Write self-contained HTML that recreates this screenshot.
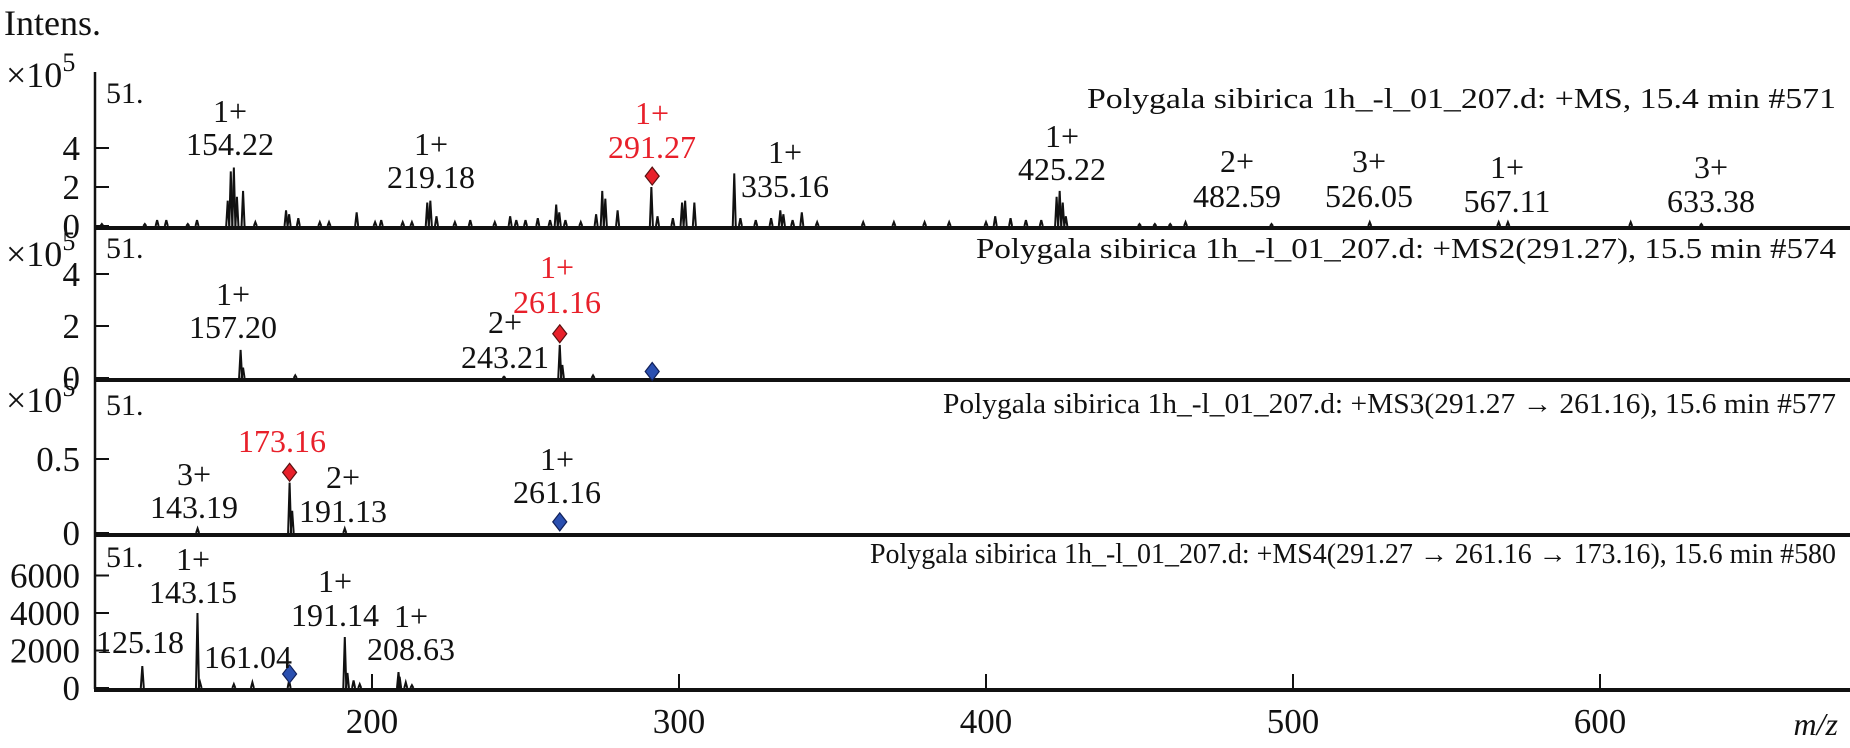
<!DOCTYPE html>
<html><head><meta charset="utf-8"><style>
html,body{margin:0;padding:0;background:#fff}
svg{display:block}
text{font-family:"Liberation Serif",serif;fill:#111}
.red{fill:#e8202a}
</style></head><body>
<svg id="chart" width="1850" height="748" viewBox="0 0 1850 748" xmlns="http://www.w3.org/2000/svg">
<text x="4" y="35" font-size="36">Intens.</text>
<g id="axes"></g>
<g id="marks"></g>
<g id="labels"></g>
<text x="1838" y="735" font-size="32" font-style="italic" text-anchor="end">m/z</text>
</svg>
<script>
// ----- data -----
const xTicks = [200, 300, 400, 500, 600];
const ms1Mz  = [112,126,130,133,140,143,153,154,155,156,158,162,172,173,176,183,186,195,201,203,210,213,218,219,221,227,232,240,245,247,250,254,258,260,261,263,268,273,275,276,280,291,293,298,301,302,305,318,320,325,330,333,334,337,340,345,360,370,380,388,400,403,408,413,418,423,424,425,426,450,455,460,465,493,525,567,570,610,633];
const ms1Int = [0.1,0.1,0.3,0.3,0.1,0.3,1.3,2.8,3.0,1.5,1.8,0.2,0.8,0.6,0.4,0.2,0.2,0.7,0.2,0.3,0.2,0.2,1.2,1.3,0.5,0.2,0.3,0.2,0.5,0.3,0.3,0.4,0.3,1.1,0.7,0.3,0.2,0.6,1.8,1.4,0.8,2.0,0.5,0.4,1.2,1.3,1.2,2.7,0.4,0.3,0.4,0.8,0.6,0.3,0.7,0.2,0.2,0.2,0.2,0.2,0.2,0.5,0.4,0.3,0.3,1.5,1.8,1.2,0.5,0.1,0.1,0.1,0.2,0.1,0.2,0.2,0.2,0.2,0.1];
const ms2Mz  = [157.2,158,175,243,261.16,262,272];
const ms2Int = [1.08,0.4,0.1,0.05,1.27,0.5,0.1];
const ms3Mz  = [143.19,173.16,174,191.13];
const ms3Int = [0.03,0.34,0.15,0.03];
const ms4Mz  = [125.18,143.15,144,155,161.04,173,191.14,192,194,196,208.63,209,211,213];
const ms4Int = [1170,4000,300,200,300,400,2720,800,400,200,850,600,300,150];
const panelTicks = [[0,2,4],[0,2,4],[0,0.5],[0,2000,4000,6000]];
const panelTickLabels = [["0","2","4"],["0","2","4"],["0","0.5"],["0","2000","4000","6000"]];
const precursorMz  = [291.27, 261.16, 173.16];
const precursorInt = [2.56, 1.7, 0.41];
const blueMz  = [null, 291.27, 261.16, 173.16];
const blueInt = [null, 0.25, 0.075, 750];
const titles = ["Polygala sibirica 1h_-l_01_207.d: +MS, 15.4 min #571",
 "Polygala sibirica 1h_-l_01_207.d: +MS2(291.27), 15.5 min #574",
 "Polygala sibirica 1h_-l_01_207.d: +MS3(291.27 \u2192 261.16), 15.6 min #577",
 "Polygala sibirica 1h_-l_01_207.d: +MS4(291.27 \u2192 261.16 \u2192 173.16), 15.6 min #580"];

// ----- layout -----
const NS="http://www.w3.org/2000/svg";
const xs = m => 372 + (m-200)*3.07;
const panels = [
 {base:226, top:72, k:19.5, mz:ms1Mz, it:ms1Int, tb:108, tx:1087, tl:749, ex:87},
 {base:378, top:230, k:26, mz:ms2Mz, it:ms2Int, tb:258, tx:976, tl:860, ex:266},
 {base:533, top:382, k:148, mz:ms3Mz, it:ms3Int, tb:413, tx:943, tl:893, ex:412},
 {base:688, top:535, k:37.5/2000, mz:ms4Mz, it:ms4Int, tb:563, tx:870, tl:966, ex:null}
];
const axes=document.getElementById('axes'), marks=document.getElementById('marks'), labels=document.getElementById('labels');
function mk(tag, attrs, parent){const e=document.createElementNS(NS,tag);for(const k in attrs)e.setAttribute(k,attrs[k]);parent.appendChild(e);return e;}
function txt(x,y,s,size,cls,anchor,parent){const e=mk('text',{x:x,y:y,'font-size':size,'text-anchor':anchor||'middle'},parent);if(cls)e.setAttribute('class',cls);e.textContent=s;return e;}

mk('line',{x1:95,y1:72,x2:95,y2:689,stroke:'#111','stroke-width':2.5},axes);

panels.forEach((p,i)=>{
  const y = v => p.base - v*p.k;
  const sep = mk('line',{x1:94,y1:p.base+2,x2:1850,y2:p.base+2,stroke:'#111','stroke-width':4},axes);
  
  
  panelTicks[i].forEach((t,j)=>{
    const tk=mk('line',{x1:95,y1:y(t),x2:109,y2:y(t),stroke:'#111','stroke-width':2},axes);
    
    
    const tl=txt(80,y(t)+12,panelTickLabels[i][j],35,null,'end',axes);
    
    
  });
  if(p.ex!==null){
    const e=mk('text',{x:6,y:p.ex,'font-size':36},axes);
    
    
    e.innerHTML='\u00d710<tspan dy="-16" font-size="26">5</tspan>';
  }
  const n=txt(106,i===0?103:(i===1?258:(i===2?415:567)),'51.',30,null,'start',labels);
  
  
  const t=mk('text',{x:p.tx,y:p.tb,'font-size':28,textLength:p.tl,lengthAdjust:'spacingAndGlyphs'},labels);
  t.textContent=titles[i];
  
  
  p.mz.forEach((m,j)=>{
    const b=mk('polyline',{points:`${xs(m)-1.5},${p.base} ${xs(m)},${y(p.it[j])} ${xs(m)+1.5},${p.base}`,fill:'none',stroke:'#111','stroke-width':2},marks);
    
    
  });
  if(i<3){
    const cx=xs(precursorMz[i]), cy=y(precursorInt[i]);
    const d=mk('polygon',{points:`${cx},${cy-9} ${cx+7},${cy} ${cx},${cy+9} ${cx-7},${cy}`,fill:'#e8202a',stroke:'#5a1010','stroke-width':1.2},marks);
    
    
  }
  if(blueMz[i]!==null){
    const cx=xs(blueMz[i]), cy=y(blueInt[i]);
    const d=mk('polygon',{points:`${cx},${cy-9} ${cx+7},${cy} ${cx},${cy+9} ${cx-7},${cy}`,fill:'#2a4fb0',stroke:'#10205a','stroke-width':1.2},marks);
    
    
  }
});

xTicks.forEach(t=>{
  const tk=mk('line',{x1:xs(t),y1:688,x2:xs(t),y2:674,stroke:'#111','stroke-width':2},axes);
  
  
  const l=txt(xs(t),733,String(t),35,null,'middle',axes);
  
  
});

// peak annotations: [x, y1, line1, y2, line2, red]
const ann = [
 [230,122,"1+",155,"154.22",0],[431,155,"1+",188,"219.18",0],[652,124,"1+",158,"291.27",1],
 [785,163,"1+",197,"335.16",0],[1062,147,"1+",180,"425.22",0],[1237,172,"2+",207,"482.59",0],
 [1369,172,"3+",207,"526.05",0],[1507,178,"1+",212,"567.11",0],[1711,178,"3+",212,"633.38",0],
 [233,305,"1+",338,"157.20",0],[505,333,"2+",368,"243.21",0],[557,278,"1+",313,"261.16",1],
 [282,null,null,452,"173.16",1],[194,485,"3+",518,"143.19",0],[343,488,"2+",522,"191.13",0],[557,470,"1+",503,"261.16",0],
 [193,570,"1+",603,"143.15",0],[140,null,null,653,"125.18",0],[248,null,null,668,"161.04",0],
 [335,592,"1+",626,"191.14",0],[411,627,"1+",660,"208.63",0]
];
ann.forEach(a=>{
  const cls=a[5]?'red':null;
  if(a[1]!==null){const l=txt(a[0],a[1],a[2],32,cls,'middle',labels);
    
    }
  const l2=txt(a[0],a[3],a[4],32,cls,'middle',labels);
  
  
});
</script>
</body></html>
